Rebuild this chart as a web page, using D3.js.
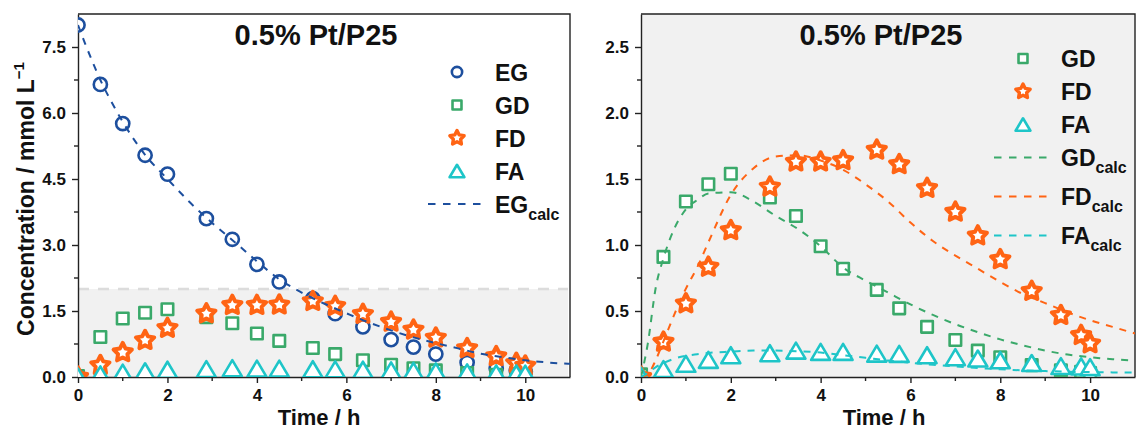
<!DOCTYPE html>
<html lang="en">
<head>
<meta charset="UTF-8">
<title>0.5% Pt/P25</title>
<script src="https://d3js.org/d3.v7.min.js"></script>
<style>
  body { margin: 0; background: #fff; }
  svg { display: block; font-family: Arial, "Liberation Sans", sans-serif; }
</style>
</head>
<body>
<svg id="chart" width="1136" height="430"></svg>
<script>
// sampling times (h)
const times = [0, 0.5, 1, 1.5, 2, 2.87, 3.45, 4, 4.5, 5.25, 5.75, 6.37, 7, 7.5, 8, 8.7, 9.35, 9.8, 10];
// measured concentrations (mmol/L)
const egData = [8.0, 6.65, 5.76, 5.04, 4.61, 3.6, 3.13, 2.56, 2.16, 1.78, 1.44, 1.14, 0.85, 0.68, 0.52, 0.33, 0.2, 0.15, 0.12];
const gdData = [0.02, 0.91, 1.33, 1.46, 1.54, 1.36, 1.22, 0.99, 0.82, 0.66, 0.52, 0.38, 0.28, 0.2, 0.15, 0.09, 0.05, 0.04, 0.03];
const fdData = [0, 0.265, 0.556, 0.833, 1.11, 1.44, 1.63, 1.63, 1.64, 1.72, 1.61, 1.43, 1.25, 1.07, 0.89, 0.65, 0.467, 0.316, 0.253];
const faData = [0.01, 0.06, 0.1, 0.13, 0.165, 0.18, 0.2, 0.19, 0.19, 0.177, 0.175, 0.165, 0.15, 0.14, 0.127, 0.106, 0.083, 0.08, 0.075];

// model curves
const calcTimes = [0, 0.15, 0.33, 0.5, 0.75, 1, 1.25, 1.5, 2, 2.5, 3, 3.5, 4, 4.5, 5, 5.5, 6, 6.5, 7, 7.5, 8, 8.5, 9, 9.5, 10, 10.5, 11];
const egCalc = [8.0, 7.6, 7.15, 6.75, 6.25, 5.8, 5.4, 5.05, 4.5, 3.97, 3.5, 3.07, 2.63, 2.22, 1.92, 1.67, 1.45, 1.24, 1.06, 0.9, 0.77, 0.65, 0.53, 0.45, 0.38, 0.33, 0.3];
const gdCalc = [0, 0.25, 0.68, 0.9, 1.13, 1.27, 1.34, 1.39, 1.4, 1.33, 1.22, 1.12, 0.99, 0.83, 0.73, 0.64, 0.55, 0.47, 0.4, 0.34, 0.285, 0.24, 0.2, 0.17, 0.15, 0.135, 0.125];
const fdCalc = [0, 0.02, 0.13, 0.27, 0.48, 0.67, 0.83, 1.02, 1.38, 1.58, 1.67, 1.68, 1.64, 1.57, 1.46, 1.33, 1.17, 1.03, 0.92, 0.82, 0.72, 0.63, 0.56, 0.49, 0.43, 0.38, 0.33];
const faCalc = [0, 0.03, 0.075, 0.105, 0.14, 0.16, 0.172, 0.182, 0.192, 0.2, 0.2, 0.195, 0.185, 0.165, 0.145, 0.125, 0.108, 0.093, 0.08, 0.068, 0.058, 0.05, 0.045, 0.04, 0.037, 0.035, 0.033];

const colors = { EG: "#1d4f9e", GD: "#3aa96a", FD: "#ff6414", FA: "#1ec5c8" };
const shapes = { EG: "circle", GD: "square", FD: "star", FA: "triangle" };
const measured = { EG: egData, GD: gdData, FD: fdData, FA: faData };
const calc = { EG: egCalc, GD: gdCalc, FD: fdCalc, FA: faCalc };

const svg = d3.select("#chart");

function starPath(R, r) {
    const pts = [];
    for (let i = 0; i < 10; i++) {
        const a = -Math.PI / 2 + i * Math.PI / 5;
        const rad = i % 2 ? r : R;
        pts.push([rad * Math.cos(a), rad * Math.sin(a)]);
    }
    return "M" + pts.map(p => p.join(",")).join("L") + "Z";
}

// draw one marker centred on (0,0) inside g
function marker(g, type, color, big) {
    const k = big ? 1 : 0.78;
    if (type === "circle") {
        g.append("circle").attr("r", 6.6 * k);
    } else if (type === "square") {
        const s = 11.5 * k;
        g.append("rect").attr("x", -s / 2).attr("y", -s / 2).attr("width", s).attr("height", s);
    } else if (type === "star") {
        g.append("path").attr("d", starPath(9.6 * k, 4.9 * k));
    } else {
        const w = 19 * k, h = 16 * k;
        g.append("path").attr("d", `M0,${-h / 2}L${w / 2},${h / 2}L${-w / 2},${h / 2}Z`);
    }
    g.selectAll("*")
        .attr("fill", "#fff")
        .attr("stroke", color)
        .attr("stroke-width", type === "star" ? 4 * (big ? 1 : 0.85) : 2.6)
        .attr("stroke-linejoin", "round");
}

function panel(opt) {
    const x = d3.scaleLinear().domain([0, 11]).range([opt.left, opt.right]);
    const y = d3.scaleLinear().domain([0, opt.yMax]).range([opt.bottom, opt.top]);
    const g = svg.append("g");

    const clipId = "clip-" + opt.id;
    svg.append("clipPath").attr("id", clipId)
        .append("rect")
        .attr("x", opt.left).attr("y", opt.top)
        .attr("width", opt.right - opt.left).attr("height", opt.bottom - opt.top);

    if (opt.fullShade) {
        g.append("rect")
            .attr("x", opt.left).attr("y", opt.top)
            .attr("width", opt.right - opt.left).attr("height", opt.bottom - opt.top)
            .attr("fill", "#f1f1f1");
    }
    if (opt.band != null) {
        g.append("rect")
            .attr("x", x(0)).attr("y", y(opt.band))
            .attr("width", opt.right - x(0) - 2).attr("height", y(0) - y(opt.band))
            .attr("fill", "#f1f1f1");
        g.append("line")
            .attr("x1", x(0)).attr("x2", opt.right - 2)
            .attr("y1", y(opt.band)).attr("y2", y(opt.band))
            .attr("stroke", "#dcdcdc").attr("stroke-width", 2.5)
            .attr("stroke-dasharray", "11,9");
    }

    // axes
    const yMajor = d3.range(0, opt.yMax + 1e-9, opt.yStep);
    const yMinor = d3.range(opt.yStep / 2, opt.yMax, opt.yStep);
    const xMajor = [0, 2, 4, 6, 8, 10];
    const xMinor = [1, 3, 5, 7, 9];

    const ax = g.append("g").attr("transform", `translate(0,${opt.bottom})`)
        .call(d3.axisBottom(x).tickValues(xMajor).tickFormat(d3.format("d"))
            .tickSize(6).tickSizeOuter(0).tickPadding(6));
    ax.append("g").selectAll("line").data(xMinor).join("line")
        .attr("x1", d => x(d)).attr("x2", d => x(d)).attr("y1", 0).attr("y2", 4);

    const ay = g.append("g").attr("transform", `translate(${opt.left},0)`)
        .call(d3.axisLeft(y).tickValues(yMajor).tickFormat(d3.format(".1f"))
            .tickSize(6).tickSizeOuter(0).tickPadding(6));
    ay.append("g").selectAll("line").data(yMinor).join("line")
        .attr("x1", 0).attr("x2", -4).attr("y1", d => y(d)).attr("y2", d => y(d));

    [ax, ay].forEach(a => {
        a.selectAll("path, line").attr("stroke", "#222").attr("stroke-width", 1.4);
        a.selectAll("text").attr("font-size", 17).attr("font-weight", "bold").attr("fill", "#111")
            .attr("font-family", "Arial, 'Liberation Sans', sans-serif");
    });

    // top and right frame
    g.append("path")
        .attr("d", `M${opt.left},${opt.top}H${opt.right}V${opt.bottom}`)
        .attr("fill", "none").attr("stroke", "#222").attr("stroke-width", 1.4);

    // markers
    const plot = g.append("g").attr("clip-path", `url(#${clipId})`);
    opt.series.forEach(key => {
        measured[key].forEach((v, i) => {
            const m = plot.append("g").attr("transform", `translate(${x(times[i])},${y(v)})`);
            marker(m, shapes[key], colors[key], true);
        });
    });

    // calculated curves
    const line = d3.line()
        .x((d, i) => x(calcTimes[i]))
        .y(d => y(d))
        .curve(d3.curveMonotoneX);
    opt.curves.forEach(key => {
        plot.append("path")
            .datum(calc[key])
            .attr("d", line)
            .attr("fill", "none")
            .attr("stroke", colors[key])
            .attr("stroke-width", 2)
            .attr("stroke-dasharray", "7,7");
    });

    // title
    g.append("text")
        .attr("x", opt.titleX).attr("y", 45)
        .attr("text-anchor", "middle")
        .attr("font-size", 29).attr("font-weight", "bold").attr("fill", "#111")
        .text("0.5% Pt/P25");

    // x title
    g.append("text")
        .attr("x", opt.titleX + 3).attr("y", 425)
        .attr("text-anchor", "middle")
        .attr("font-size", 22).attr("font-weight", "bold").attr("fill", "#111")
        .text("Time / h");

    // legend
    let ly = opt.legendY;
    opt.legend.forEach(item => {
        const lg = g.append("g").attr("transform", `translate(0,${ly})`);
        if (item.calc) {
            lg.append("line")
                .attr("x1", opt.legendX - 29).attr("x2", opt.legendX + 26)
                .attr("stroke", colors[item.key]).attr("stroke-width", 2)
                .attr("stroke-dasharray", "7.5,7.5");
        } else {
            const m = lg.append("g").attr("transform", `translate(${opt.legendX},0)`);
            marker(m, shapes[item.key], colors[item.key], false);
        }
        const t = lg.append("text")
            .attr("x", opt.legendX + 38).attr("y", 8.5)
            .attr("font-size", 23).attr("font-weight", "bold").attr("fill", "#111")
            .text(item.key);
        if (item.calc) {
            t.append("tspan").attr("font-size", 16).attr("dy", 7).text("calc");
        }
        ly += item.calc ? 39 : 33;
    });
}

panel({
    id: "left", left: 78, right: 570, top: 14, bottom: 377,
    yMax: 8.25, yStep: 1.5, band: 2.0, fullShade: false,
    series: ["EG", "GD", "FD", "FA"], curves: ["EG"],
    titleX: 316, legendX: 457, legendY: 72,
    legend: [{ key: "EG" }, { key: "GD" }, { key: "FD" }, { key: "FA" }, { key: "EG", calc: true }]
});

panel({
    id: "right", left: 641, right: 1135, top: 14, bottom: 377,
    yMax: 2.75, yStep: 0.5, band: null, fullShade: true,
    series: ["GD", "FD", "FA"], curves: ["GD", "FD", "FA"],
    titleX: 881, legendX: 1023, legendY: 58.5,
    legend: [{ key: "GD" }, { key: "FD" }, { key: "FA" },
             { key: "GD", calc: true }, { key: "FD", calc: true }, { key: "FA", calc: true }]
});

// y-axis title (left panel only)
svg.append("text")
    .attr("transform", "translate(34,199) rotate(-90)")
    .attr("text-anchor", "middle")
    .attr("font-size", 23).attr("font-weight", "bold").attr("fill", "#111")
    .text("Concentration / mmol L")
    .append("tspan").attr("font-size", 15).attr("dy", -10).text("\u22121");
</script>
</body>
</html>
